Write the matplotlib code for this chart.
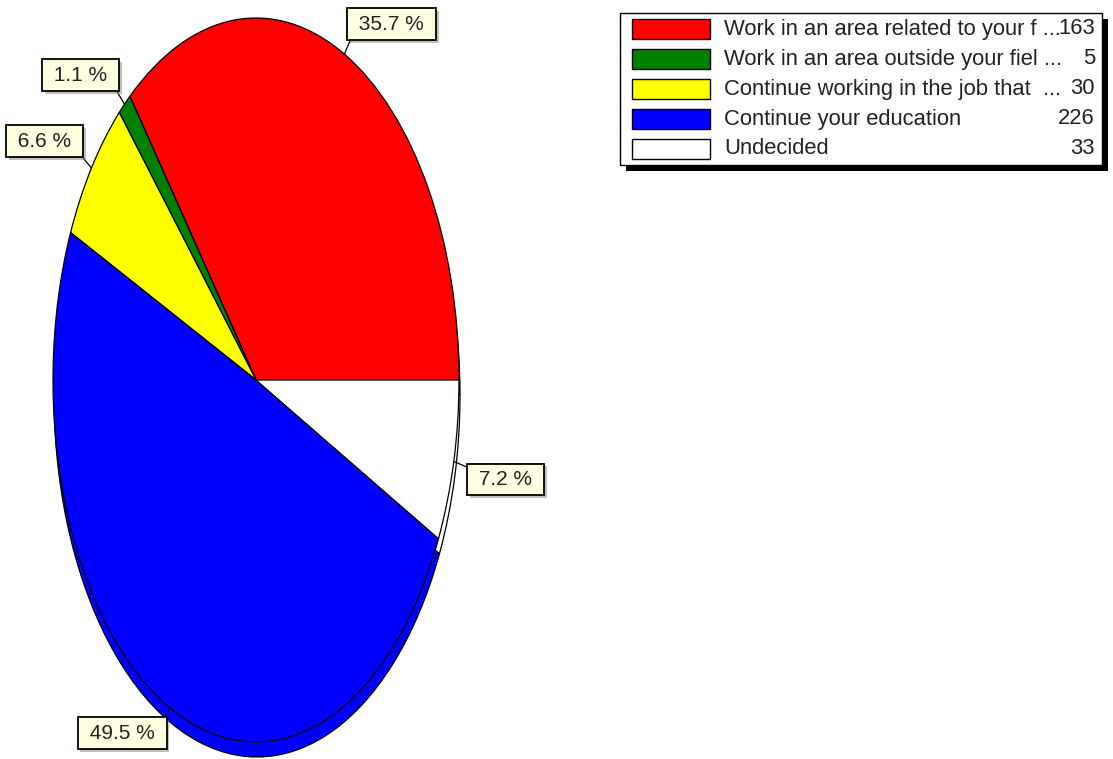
import matplotlib.pyplot as plt
from matplotlib.patches import Rectangle
from matplotlib import patheffects
import numpy as np

plt.rcParams['font.family'] = ['Liberation Sans', 'DejaVu Sans']

# ==============================================================================
# DATA
# ==============================================================================
labels = [
    'Work in an area related to your f ...',
    'Work in an area outside your fiel ...',
    'Continue working in the job that  ...',
    'Continue your education',
    'Undecided',
]
counts = [163, 5, 30, 226, 33]
colors = ['#FF0000', '#008000', '#FFFF00', '#0000FF', '#FFFFFF']

# offsets (pixels) of each percentage box from its anchor on the rim
label_offsets = [(47, 30), (-44, 29), (-47, 27), (-48, -25), (52, -18)]
label_relpos = [(0, 0), (1, 0), (1, 0), (1, 1), (0, 1)]

W, H = 1113, 759
fig = plt.figure(figsize=(W / 100, H / 100), dpi=100)

# pie axes covers the top ellipse exactly (x 53..459, y 18..742 px)
ax = fig.add_axes([53 / W, (H - 742) / H, 406 / W, 724 / H])

wp = dict(edgecolor='black', linewidth=0.9)
# 3D side: same pie shifted down a few pixels
side, _ = ax.pie(counts, colors=colors, startangle=0, counterclock=True,
                 center=(1 / 203, -15 / 362), wedgeprops=wp)
top, _ = ax.pie(counts, colors=colors, startangle=0, counterclock=True,
                wedgeprops=wp)
for w in side + top:
    w.set_clip_on(False)
ax.set_aspect('auto')
ax.set_xlim(-1, 1)
ax.set_ylim(-1, 1)
ax.axis('off')

total = sum(counts)
for w, c, off, rp in zip(top, counts, label_offsets, label_relpos):
    mid = np.deg2rad((w.theta1 + w.theta2) / 2)
    txt = ax.annotate(f' {100 * c / total:.1f} % ', xy=(np.cos(mid), np.sin(mid)),
                      xytext=off, textcoords='offset pixels',
                      ha='center', va='center', fontsize=15, color='#222222',
                      bbox=dict(boxstyle='square,pad=0.3', fc='#FFFFE1', ec='black', lw=1.3),
                      arrowprops=dict(arrowstyle='-', color='black', lw=0.9,
                                      shrinkA=0, shrinkB=0, relpos=rp),
                      annotation_clip=False, zorder=5)
    txt.get_bbox_patch().set_path_effects([
        patheffects.withSimplePatchShadow(offset=(2, -2), shadow_rgbFace='gray', alpha=0.5)])

# ==============================================================================
# LEGEND (drawn in a pixel-coordinate overlay)
# ==============================================================================
ov = fig.add_axes([0, 0, 1, 1])
ov.set_xlim(0, W)
ov.set_ylim(H, 0)
ov.axis('off')

ov.add_patch(Rectangle((626, 19), 482, 152, fc='black', ec='none'))
ov.add_patch(Rectangle((620, 13), 482, 152, fc='white', ec='black', lw=1))
for i, (lab, c, col) in enumerate(zip(labels, counts, colors)):
    yc = 29 + 30 * i
    ov.add_patch(Rectangle((632, yc - 10), 78, 20, fc=col, ec='black', lw=1))
    ov.text(724, yc, lab, ha='left', va='center', fontsize=15.8, color='#222222')
    ov.text(1095, yc, str(c), ha='right', va='center', fontsize=15.8, color='#222222')

fig.savefig('out.png', dpi=100)
